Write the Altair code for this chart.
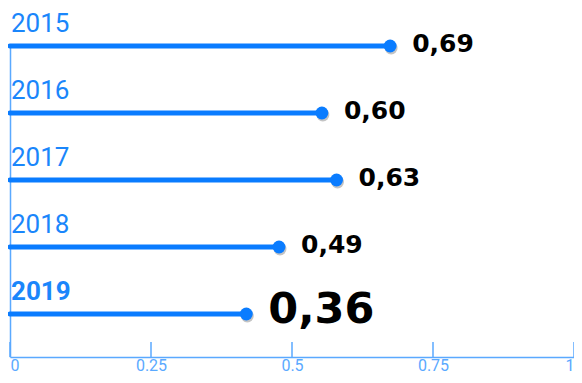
import altair as alt
import pandas as pd

years = ["2015", "2016", "2017", "2018", "2019"]
bar_values = [0.674, 0.553, 0.579, 0.477, 0.419]
value_labels = ["0,69", "0,60", "0,63", "0,49", "0,36"]
highlight = [False, False, False, False, True]
tick_values = [0, 0.25, 0.5, 0.75, 1]

BLUE = "#0a7cff"
TEXT_BLUE = "#1a86fb"
AXIS_BLUE = "#5aa9ff"

df = pd.DataFrame({"year": years, "value": bar_values, "label": value_labels, "hl": highlight})
ticks_df = pd.DataFrame({"t": tick_values})

W, H = 564, 311

xscale = alt.Scale(domain=[0, 1], nice=False, zero=True)
yscale = alt.Scale(type="point", padding=0.321, align=0, domain=years)

base = alt.Chart(df)

x_axis = alt.Axis(values=tick_values, format=".2~f", ticks=False, grid=False, title=None,
                  labelFlush=True, labelPadding=0, labelFontSize=16, labelFont="Roboto",
                  labelFontWeight=400, labelColor=AXIS_BLUE, domainColor=AXIS_BLUE,
                  domainWidth=1.5)
y_axis = alt.Axis(labels=False, ticks=False, grid=False, title=None,
                  domainColor=AXIS_BLUE, domainWidth=1.5)

Y = alt.Y("year:N", scale=yscale, axis=y_axis)
X = alt.X("value:Q", scale=xscale, axis=x_axis)

bars = base.mark_rule(strokeWidth=5, strokeCap="round", color=BLUE).encode(
    x=X,
    x2=alt.datum(0),
    y=Y,
)

shadow = base.mark_circle(size=165, opacity=0.35, color="#555555", xOffset=1, yOffset=2).encode(
    x=X, y=Y,
)

dots = base.mark_circle(size=165, opacity=1, color=BLUE).encode(x=X, y=Y)

ticks = alt.Chart(ticks_df).mark_rule(color=AXIS_BLUE, strokeWidth=1.5).encode(
    x=alt.X("t:Q", scale=xscale, axis=x_axis),
    y=alt.value(H - 15),
    y2=alt.value(H),
)

year_text = base.transform_filter("!datum.hl").mark_text(
    align="left", baseline="alphabetic", dx=1, dy=-14,
    font="Roboto", fontSize=26, fontWeight=400, color=TEXT_BLUE).encode(
    x=alt.value(0), y=Y, text="year:N",
)

year_text_hl = base.transform_filter("datum.hl").mark_text(
    align="left", baseline="alphabetic", dx=1, dy=-14,
    font="Roboto", fontSize=26, fontWeight="bold", color=TEXT_BLUE).encode(
    x=alt.value(0), y=Y, text="year:N",
)

small_labels = base.transform_filter("!datum.hl").mark_text(
    align="left", baseline="alphabetic", dx=22, dy=6,
    font="DejaVu Sans", fontWeight="bold", fontSize=25, color="#000000").encode(
    x=X, y=Y, text="label:N",
)

big_labels = base.transform_filter("datum.hl").mark_text(
    align="left", baseline="alphabetic", dx=22, dy=9,
    font="DejaVu Sans", fontWeight="bold", fontSize=43, color="#000000").encode(
    x=X, y=Y, text="label:N",
)

chart = alt.layer(ticks, bars, shadow, dots, year_text, year_text_hl, small_labels, big_labels).properties(
    width=W, height=H,
    autosize=alt.AutoSizeParams(type="none"),
    padding={"left": 2, "top": 38, "right": 0, "bottom": 18},
).configure_view(stroke=None)

chart.save("out.html", embed_options={"renderer": "svg", "actions": False})
